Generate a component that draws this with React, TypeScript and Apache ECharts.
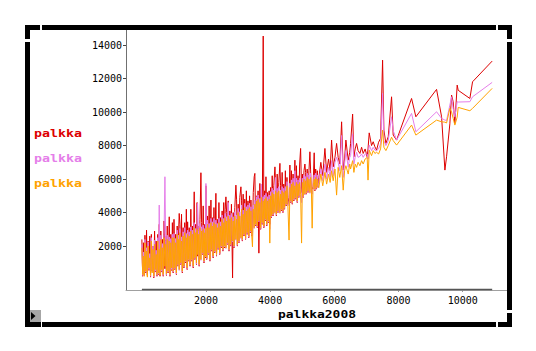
import React, { useEffect, useRef } from "react";
import * as echarts from "echarts";

// palkka2008 (x) values, sorted
const palkka2008 = [
  5, 30, 55, 80, 100, 125, 150, 175, 200, 225, 250, 275, 300, 325, 350, 375, 400, 425, 450, 475,
  500, 525, 545, 570, 595, 620, 645, 670, 695, 723, 745, 770, 795, 820, 845, 857, 880, 905, 930, 955,
  980, 1005, 1030, 1055, 1080, 1105, 1130, 1150, 1168, 1190, 1215, 1240, 1265, 1290, 1315, 1340, 1365, 1390, 1415, 1430, 1455, 1480,
  1505, 1530, 1555, 1580, 1605, 1635, 1655, 1680, 1705, 1725, 1740, 1765, 1790, 1815, 1844, 1865, 1890, 1915, 1940, 1965, 1985, 2000,
  2025, 2050, 2075, 2100, 2125, 2156, 2175, 2200, 2225, 2250, 2275, 2311, 2330, 2355, 2380, 2405, 2430, 2455, 2480,
  2505, 2530, 2555, 2580, 2600, 2623, 2645, 2670, 2695, 2720, 2745, 2770, 2795, 2830, 2850, 2875, 2900, 2934, 2955, 2980,
  3005, 3030, 3055, 3090, 3110, 3135, 3160, 3185, 3210, 3235, 3260, 3285, 3310, 3335, 3360, 3385, 3402, 3425, 3450, 3475,
  3504, 3525, 3550, 3575, 3600, 3625, 3650, 3680, 3705, 3730, 3755, 3785, 3805, 3830, 3855, 3870, 3895, 3920, 3945, 3970, 3990,
  4015, 4040, 4065, 4090, 4115, 4150, 4170, 4195, 4220, 4245, 4270, 4305, 4325, 4350, 4375, 4400, 4425, 4450, 4475,
  4500, 4525, 4550, 4590, 4616, 4640, 4665, 4690, 4715, 4740, 4772, 4795, 4820, 4845, 4870, 4895, 4920, 4950, 4980,
  5005, 5030, 5055, 5084, 5105, 5130, 5155, 5180, 5210, 5240, 5260, 5285, 5310, 5335, 5373, 5395, 5420, 5445, 5470, 5495,
  5520, 5580, 5640, 5707, 5760, 5820, 5870, 5915, 5965,
  6020, 6071, 6120, 6170, 6227, 6277, 6320, 6361, 6433, 6480,
  6507, 6570, 6610, 6650, 6694, 6740, 6797, 6850, 6900, 6960,
  7024, 7050, 7087, 7160, 7211, 7264, 7317, 7380, 7441, 7504, 7545, 7607, 7680,
  7784, 7834, 7940, 8407, 8541, 9186, 9342, 9445, 9497, 9600, 9653, 9703, 9756, 9828, 9860, 10223, 10307, 10918,
];

// first "palkka" series (red)
const palkkaRed = [
  2400, 200, 2200, 300, 2650, 400, 2950, 250, 2300, 550, 2600, 150, 2700, 500, 2000, 100, 2900, 450, 2300, 200,
  2700, 300, 3300, 200, 2900, 450, 2400, 200, 3500, 650, 2600, 250, 3200, 400, 2200, 3750, 200, 2700, 550, 3400,
  400, 3600, 600, 2700, 300, 3200, 800, 2900, 3950, 3300, 900, 3900, 400, 3100, 700, 3400, 1000, 4200, 600, 3450, 1100, 3100,
  800, 4200, 1100, 3200, 700, 5240, 1200, 3300, 900, 4600, 1400, 3200, 800, 3600, 6380, 3400, 1500, 4400, 1000, 3300, 1300, 5600,
  1200, 3800, 1500, 4400, 1100, 4750, 1700, 3700, 1300, 4300, 1600, 5150, 1400, 3600, 1800, 4600, 1500, 3700, 1900,
  4100, 1700, 4600, 1900, 4200, 4940, 4000, 2100, 4700, 1700, 4100, 2000, 4500, 100, 4000, 1900, 4300, 5640, 4800, 2000,
  4500, 2200, 4900, 5540, 4700, 2300, 5100, 2600, 4800, 2400, 5300, 2700, 4700, 2500, 5000, 2800, 4750, 2600, 2800, 5200,
  6140, 6340, 3200, 5000, 3100, 5300, 1580, 5740, 3000, 5400, 3300, 14540, 3100, 5300, 3500, 6140, 3200, 5200, 3400, 5300, 3300,
  5500, 3700, 6200, 3800, 5600, 6730, 5800, 3800, 6300, 4000, 5800, 6940, 5600, 4100, 6400, 4000, 5700, 4200, 6500,
  4400, 6100, 4500, 4900, 6840, 4600, 6500, 4500, 6300, 4700, 7130, 4800, 6800, 4600, 6200, 4900, 6900, 7830, 5200,
  6300, 4900, 6500, 6900, 6400, 5100, 6600, 5200, 6500, 7630, 6600, 5300, 5500, 5400, 7570, 5300, 6600, 5400, 6500, 5500,
  6100, 7000, 6200, 7830, 6400, 7200, 6500, 8330, 6730,
  7300, 8130, 7300, 6900, 9420, 6540, 7200, 8330, 7130, 7600,
  8130, 9880, 7330, 7800, 8130, 7700, 7530, 7900, 7530, 7800,
  7330, 7800, 8760, 8000, 8230, 7930, 7730, 8200, 8430, 13100, 8925, 8130, 8530,
  10913, 8627, 8328, 10813, 9719, 11355, 9720, 6537, 7330, 9300, 11015, 10620, 9325, 11612, 11300, 10813, 11809, 13044,
];

// second "palkka" series (violet)
const palkkaViolet = [
  2100, 250, 1650, 350, 2400, 450, 1900, 300, 2250, 600, 1550, 200, 2500, 550, 2000, 150, 2350, 500, 1750, 250,
  2500, 350, 4450, 300, 2650, 500, 2150, 250, 2700, 6140, 2350, 300, 2650, 450, 1950, 2550, 250, 2450, 600, 2700,
  450, 2750, 650, 2450, 350, 2950, 850, 2650, 550, 3050, 950, 2550, 450, 2850, 750, 3100, 1050, 2750, 650, 2950, 1150, 2850,
  850, 3150, 1150, 2950, 750, 3400, 1250, 3050, 950, 3250, 4550, 2950, 850, 3350, 1150, 3150, 1550, 3250, 1050, 3050, 1350, 5740,
  1250, 3550, 1550, 3350, 1150, 3650, 1750, 3450, 1350, 3650, 1650, 3550, 1450, 3350, 1850, 3650, 1550, 3450, 1950,
  3850, 1750, 3650, 1950, 3950, 1850, 3750, 2150, 4600, 1750, 3850, 2050, 3950, 2250, 3750, 1950, 4050, 2350, 3850, 2050,
  4250, 2250, 4050, 2450, 4450, 2350, 4150, 2650, 4550, 2450, 4350, 2750, 4450, 2550, 4550, 2850, 4350, 2650, 2600, 4450,
  3050, 4750, 3250, 4950, 3150, 5050, 3450, 4850, 3050, 5700, 3350, 4950, 3150, 5050, 3550, 5150, 3250, 4950, 3450, 5050, 3000,
  5250, 3750, 5450, 3850, 5350, 3950, 6100, 3850, 5450, 4050, 5550, 3950, 5350, 4150, 5550, 4050, 5450, 4250, 5550,
  4450, 5850, 4550, 4400, 5750, 4650, 5950, 4550, 6050, 4750, 6500, 4850, 6050, 4650, 5950, 4950, 6050, 5400, 4600,
  6050, 4950, 6250, 5050, 6150, 5150, 6350, 5250, 6250, 5150, 6350, 5350, 5100, 5450, 6250, 5350, 6350, 5450, 6250, 5550,
  5800, 6600, 5900, 6900, 6000, 6700, 6100, 7100, 6200,
  7000, 7300, 7000, 6500, 8600, 6100, 6900, 7700, 6700, 7300,
  7400, 8700, 6900, 7300, 7600, 7300, 7355, 7500, 7300, 7500,
  7500, 7200, 8030, 7700, 7900, 7730, 7700, 7800, 8100, 11116, 8300, 8000, 8300,
  9720, 8900, 8330, 9922, 8825, 10018, 9623, 9522, 9500, 10418, 10913, 10200, 9720, 10620, 10600, 10619, 10913, 11773,
];

// third "palkka" series (orange)
const palkkaOrange = [
  1900, 300, 1400, 200, 2200, 500, 1700, 150, 2000, 700, 1300, 250, 2300, 400, 1800, 200, 2100, 600, 1500, 300,
  2300, 400, 1800, 250, 2400, 600, 1900, 300, 2500, 800, 2100, 350, 2400, 500, 1700, 2300, 300, 2200, 700, 2500,
  500, 2500, 700, 2200, 400, 2700, 900, 2400, 600, 2800, 1000, 2300, 500, 2600, 800, 2800, 1100, 2500, 700, 2700, 1200, 2600,
  900, 2900, 1200, 2700, 800, 3100, 1300, 2800, 1000, 3000, 1500, 2700, 900, 3100, 1200, 2900, 1600, 3000, 1100, 2800, 1400, 3100,
  1300, 3300, 1600, 3100, 1200, 3400, 1800, 3200, 1400, 3400, 1700, 3300, 1500, 3100, 1900, 3400, 1600, 3200, 2000,
  3600, 1800, 3400, 2000, 3700, 1900, 3500, 2200, 3800, 1800, 3600, 2100, 3700, 2300, 3500, 2000, 3800, 2400, 3600, 2100,
  4000, 2300, 3800, 2500, 4200, 2400, 3900, 2700, 4300, 2500, 4100, 2800, 4200, 2600, 4300, 2900, 4100, 2700, 1960, 4200,
  3100, 4500, 3300, 4700, 3200, 4800, 3500, 4600, 3100, 4900, 3400, 4700, 3200, 4800, 3600, 4900, 3300, 4700, 3500, 4800, 2180,
  5000, 3800, 5200, 3900, 5100, 4000, 5300, 3900, 5200, 4100, 5300, 4000, 5100, 4200, 5300, 4100, 5200, 4300, 5300,
  4500, 5600, 4600, 2360, 5500, 4700, 5700, 4600, 5800, 4800, 5600, 4900, 5800, 4700, 5700, 5000, 5800, 5100, 2180,
  5800, 5000, 6000, 5100, 5900, 5200, 6100, 5300, 6000, 5200, 6100, 5400, 3070, 5500, 6000, 5400, 6100, 5500, 6000, 5600,
  5500, 6300, 5600, 6400, 5700, 6300, 5800, 6500, 5900,
  6600, 5045, 6700, 6100, 6800, 5340, 6500, 6800, 6300, 6900,
  6600, 7100, 6400, 6900, 6700, 7000, 6800, 7100, 6900, 7200,
  7300, 5940, 7730, 7400, 7700, 7530, 7600, 7500, 7800, 8925, 7900, 7700, 8000,
  8500, 8300, 8030, 9224, 8627, 9522, 9420, 9400, 9350, 10220, 10000, 9623, 9224, 9700, 10280, 10080, 10221, 11415,
];

const seriesNames = ["palkka", "palkka", "palkka"];
const seriesColors = ["#dd0000", "#e57ee9", "#ffa200"];
const xTicks = [2000, 4000, 6000, 8000, 10000];
const yTicks = [2000, 4000, 6000, 8000, 10000, 12000, 14000];
const xTitle = "palkka2008";

const MONO = "'DejaVu Sans Mono', 'Liberation Mono', monospace";

function frameGraphics(): any[] {
  const r = (x: number, y: number, w: number, h: number, fill = "#000") => ({
    type: "rect",
    shape: { x, y, width: w, height: h },
    style: { fill },
    silent: true,
    z: 100,
  });
  return [
    r(25, 25, 15, 5),
    r(25, 25, 5, 14),
    r(42, 25, 454, 5),
    r(498, 25, 14, 5),
    r(507, 25, 5, 14),
    r(25, 42, 5, 268),
    r(507, 42, 5, 268),
    r(25, 310, 5, 17),
    r(25, 322, 16, 5),
    r(42, 322, 454, 5),
    r(498, 322, 14, 5),
    r(507, 313, 5, 14),
    r(30, 310, 11, 12, "#a6a6a6"),
    {
      type: "polygon",
      shape: { points: [[31, 312], [31, 320], [35.5, 316]] },
      style: { fill: "#000" },
      silent: true,
      z: 101,
    },
  ];
}

export default function App() {
  const ref = useRef<HTMLDivElement>(null);
  useEffect(() => {
    if (!ref.current) return;
    const chart = echarts.init(ref.current, undefined, { renderer: "svg" });
    const arrays = [palkkaRed, palkkaViolet, palkkaOrange];
    const series = arrays.map((arr, i) => ({
      type: "line",
      name: seriesNames[i],
      data: palkka2008.map((x, j) => [x, arr[j]]),
      showSymbol: false,
      symbol: "none",
      silent: true,
      lineStyle: { width: 1, color: seriesColors[i] },
      itemStyle: { color: seriesColors[i] },
      z: 2 + i,
    }));

    const legendTexts = seriesNames.map((n, i) => ({
      type: "text",
      x: 34,
      y: 134 + i * 25,
      scaleX: 1.33,
      style: {
        text: n,
        fill: seriesColors[i],
        font: `bold 10px ${MONO}`,
        textAlign: "left",
        textVerticalAlign: "middle",
      },
      silent: true,
    }));

    const titleText = {
      type: "text",
      x: 317,
      y: 314,
      scaleX: 1.18,
      style: {
        text: xTitle,
        fill: "#000",
        font: `bold 11px ${MONO}`,
        textAlign: "center",
        textVerticalAlign: "middle",
      },
      silent: true,
    };

    const fmt = (v: number) => String(v);

    const option: any = {
      animation: false,
      backgroundColor: "#ffffff",
      grid: { left: 126, top: 30, width: 381, height: 260, containLabel: false },
      xAxis: {
        type: "value",
        min: -490,
        max: 11380,
        axisLine: { show: true, onZero: false, lineStyle: { color: "#a0a0a0", width: 1 } },
        axisTick: { show: true, length: 2, customValues: xTicks, lineStyle: { color: "#999" } },
        axisLabel: {
          customValues: xTicks,
          formatter: fmt,
          fontFamily: MONO,
          fontSize: 10,
          color: "#000",
          margin: 5,
        },
        splitLine: { show: false },
      },
      yAxis: {
        type: "value",
        min: -620,
        max: 14900,
        axisLine: { show: true, onZero: false, lineStyle: { color: "#707070", width: 1 } },
        axisTick: { show: true, length: 3, customValues: yTicks, lineStyle: { color: "#444" } },
        axisLabel: {
          customValues: yTicks,
          formatter: fmt,
          fontFamily: MONO,
          fontSize: 10,
          color: "#000",
          margin: 4,
        },
        splitLine: { show: false },
      },
      series,
      graphic: [...frameGraphics(), ...legendTexts, titleText],
    };
    chart.setOption(option);

    const a = chart.convertToPixel({ xAxisIndex: 0 }, palkka2008[0]) as number;
    const b = chart.convertToPixel({ xAxisIndex: 0 }, palkka2008[palkka2008.length - 1]) as number;
    chart.setOption({
      graphic: [
        ...frameGraphics(),
        ...legendTexts,
        titleText,
        {
          type: "line",
          shape: { x1: a, y1: 289.5, x2: b, y2: 289.5 },
          style: { stroke: "#555", lineWidth: 1.5 },
          silent: true,
          z: 50,
        },
      ],
    });

    return () => chart.dispose();
  }, []);
  return (
    <div
      ref={ref}
      style={{ position: "fixed", left: 0, top: 0, width: 536, height: 351, background: "#fff" }}
    />
  );
}
